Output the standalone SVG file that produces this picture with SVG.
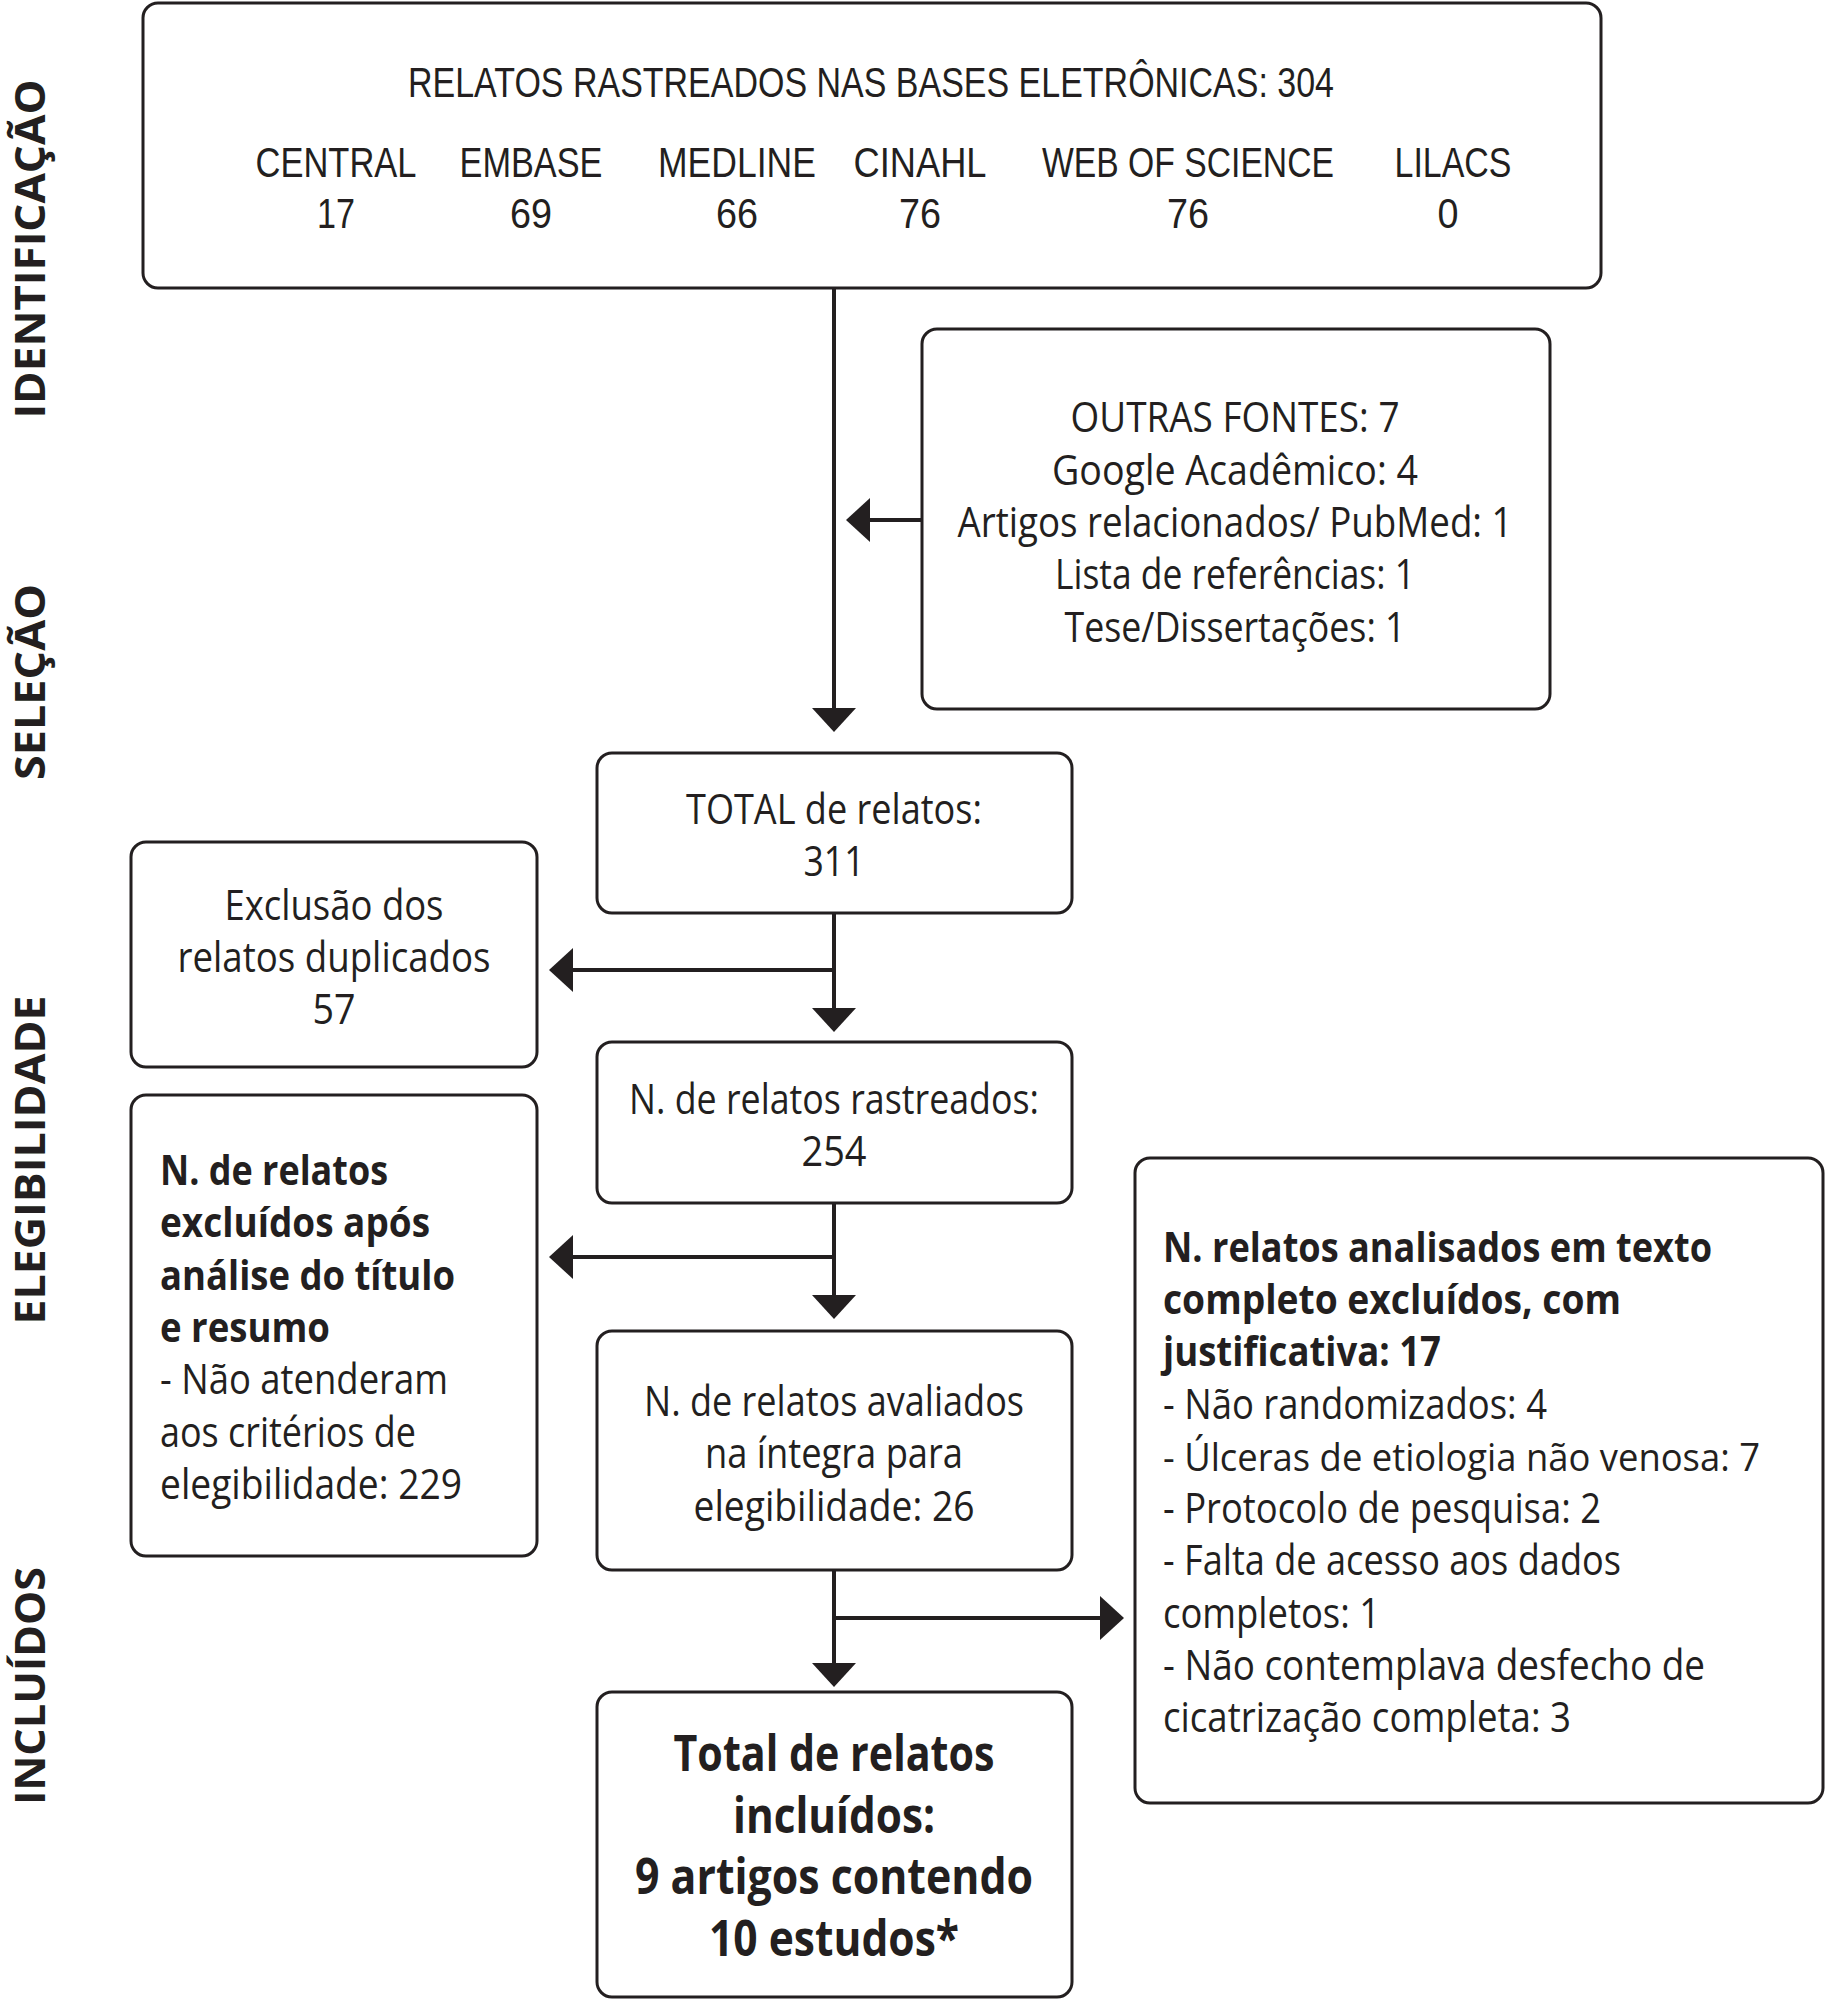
<svg xmlns="http://www.w3.org/2000/svg" width="1827" height="2000" viewBox="0 0 1827 2000">
<style>
.box{fill:#fff;stroke:#231f20;stroke-width:3}
.t{font-family:"Open Sans","Liberation Sans",sans-serif;font-size:42px;fill:#231f20}
.n{font-family:"Liberation Sans",Arial,sans-serif;font-size:43px}
.s{font-size:38px}
.c{text-anchor:middle}
.b{font-weight:bold}
.big{font-size:50px}
.side{font-family:"Open Sans","Liberation Sans",sans-serif;font-size:42px;font-weight:bold;fill:#231f20;text-anchor:middle}
.ln{stroke:#231f20;stroke-width:4;fill:none}
</style>
<defs>
<marker id="ah" markerUnits="userSpaceOnUse" markerWidth="24" markerHeight="44" viewBox="0 0 24 44" refX="0" refY="22" orient="auto">
<path d="M0,0 L24,22 L0,44 Z" fill="#231f20"/>
</marker>
</defs>
<rect width="1827" height="2000" fill="#fff"/>
<g id="side-labels">
<text class="side" transform="translate(45,249) rotate(-90)" textLength="339" lengthAdjust="spacingAndGlyphs">IDENTIFICAÇÃO</text>
<text class="side" transform="translate(45,682) rotate(-90)" textLength="196" lengthAdjust="spacingAndGlyphs">SELEÇÃO</text>
<text class="side" transform="translate(45,1160) rotate(-90)" textLength="329" lengthAdjust="spacingAndGlyphs">ELEGIBILIDADE</text>
<text class="side" transform="translate(45,1686) rotate(-90)" textLength="238" lengthAdjust="spacingAndGlyphs">INCLUÍDOS</text>
</g>
<g id="connectors">
<line class="ln" x1="834" y1="288" x2="834" y2="708" marker-end="url(#ah)"/>
<line class="ln" x1="922" y1="520" x2="870" y2="520" marker-end="url(#ah)"/>
<line class="ln" x1="834" y1="913" x2="834" y2="1008" marker-end="url(#ah)"/>
<line class="ln" x1="836" y1="970" x2="573" y2="970" marker-end="url(#ah)"/>
<line class="ln" x1="834" y1="1203" x2="834" y2="1295" marker-end="url(#ah)"/>
<line class="ln" x1="836" y1="1257" x2="573" y2="1257" marker-end="url(#ah)"/>
<line class="ln" x1="834" y1="1570" x2="834" y2="1663" marker-end="url(#ah)"/>
<line class="ln" x1="832" y1="1618" x2="1100" y2="1618" marker-end="url(#ah)"/>
</g>
<g id="node-bases">
<rect class="box" x="143" y="3" width="1458" height="285" rx="15"/>
<text class="t n c" x="871" y="97" textLength="926" lengthAdjust="spacingAndGlyphs">RELATOS RASTREADOS NAS BASES ELETRÔNICAS: 304</text>
<text class="t n c" x="336" y="177" textLength="161" lengthAdjust="spacingAndGlyphs">CENTRAL</text>
<text class="t n c" x="531" y="177" textLength="143" lengthAdjust="spacingAndGlyphs">EMBASE</text>
<text class="t n c" x="737" y="177" textLength="158" lengthAdjust="spacingAndGlyphs">MEDLINE</text>
<text class="t n c" x="920" y="177" textLength="133" lengthAdjust="spacingAndGlyphs">CINAHL</text>
<text class="t n c" x="1188" y="177" textLength="292" lengthAdjust="spacingAndGlyphs">WEB OF SCIENCE</text>
<text class="t n c" x="1453" y="177" textLength="117" lengthAdjust="spacingAndGlyphs">LILACS</text>
<text class="t n c" x="336" y="228" textLength="38" lengthAdjust="spacingAndGlyphs">17</text>
<text class="t n c" x="531" y="228" textLength="42" lengthAdjust="spacingAndGlyphs">69</text>
<text class="t n c" x="737" y="228" textLength="42" lengthAdjust="spacingAndGlyphs">66</text>
<text class="t n c" x="920" y="228" textLength="42" lengthAdjust="spacingAndGlyphs">76</text>
<text class="t n c" x="1188" y="228" textLength="42" lengthAdjust="spacingAndGlyphs">76</text>
<text class="t n c" x="1448" y="228" textLength="21" lengthAdjust="spacingAndGlyphs">0</text>
</g>
<g id="node-outras">
<rect class="box" x="922" y="329" width="628" height="380" rx="15"/>
<text class="t c" x="1235" y="432" textLength="329" lengthAdjust="spacingAndGlyphs">OUTRAS FONTES: 7</text>
<text class="t c" x="1235" y="485" textLength="366" lengthAdjust="spacingAndGlyphs">Google Acadêmico: 4</text>
<text class="t c" x="1235" y="537" textLength="555" lengthAdjust="spacingAndGlyphs">Artigos relacionados/ PubMed: 1</text>
<text class="t c" x="1235" y="589" textLength="360" lengthAdjust="spacingAndGlyphs">Lista de referências: 1</text>
<text class="t c" x="1235" y="642" textLength="341" lengthAdjust="spacingAndGlyphs">Tese/Dissertações: 1</text>
</g>
<g id="node-total">
<rect class="box" x="597" y="753" width="475" height="160" rx="15"/>
<text class="t c" x="834" y="824" textLength="296" lengthAdjust="spacingAndGlyphs">TOTAL de relatos:</text>
<text class="t c" x="834" y="876" textLength="61" lengthAdjust="spacingAndGlyphs">311</text>
</g>
<g id="node-duplicados">
<rect class="box" x="131" y="842" width="406" height="225" rx="15"/>
<text class="t c" x="334" y="920" textLength="219" lengthAdjust="spacingAndGlyphs">Exclusão dos</text>
<text class="t c" x="334" y="972" textLength="313" lengthAdjust="spacingAndGlyphs">relatos duplicados</text>
<text class="t c" x="334" y="1024" textLength="43" lengthAdjust="spacingAndGlyphs">57</text>
</g>
<g id="node-rastreados">
<rect class="box" x="597" y="1042" width="475" height="161" rx="15"/>
<text class="t c" x="834" y="1114" textLength="410" lengthAdjust="spacingAndGlyphs">N. de relatos rastreados:</text>
<text class="t c" x="834" y="1166" textLength="65" lengthAdjust="spacingAndGlyphs">254</text>
</g>
<g id="node-excluidos-titulo">
<rect class="box" x="131" y="1095" width="406" height="461" rx="15"/>
<text class="t b" x="160" y="1185" textLength="228" lengthAdjust="spacingAndGlyphs">N. de relatos</text>
<text class="t b" x="160" y="1237" textLength="270" lengthAdjust="spacingAndGlyphs">excluídos após</text>
<text class="t b" x="160" y="1290" textLength="295" lengthAdjust="spacingAndGlyphs">análise do título</text>
<text class="t b" x="160" y="1342" textLength="170" lengthAdjust="spacingAndGlyphs">e resumo</text>
<text class="t" x="160" y="1394" textLength="288" lengthAdjust="spacingAndGlyphs">- Não atenderam</text>
<text class="t" x="160" y="1447" textLength="256" lengthAdjust="spacingAndGlyphs">aos critérios de</text>
<text class="t" x="160" y="1499" textLength="302" lengthAdjust="spacingAndGlyphs">elegibilidade: 229</text>
</g>
<g id="node-avaliados">
<rect class="box" x="597" y="1331" width="475" height="239" rx="15"/>
<text class="t c" x="834" y="1416" textLength="380" lengthAdjust="spacingAndGlyphs">N. de relatos avaliados</text>
<text class="t c" x="834" y="1468" textLength="258" lengthAdjust="spacingAndGlyphs">na íntegra para</text>
<text class="t c" x="834" y="1521" textLength="281" lengthAdjust="spacingAndGlyphs">elegibilidade: 26</text>
</g>
<g id="node-excluidos-texto">
<rect class="box" x="1135" y="1158" width="688" height="645" rx="15"/>
<text class="t b" x="1163" y="1262" textLength="549" lengthAdjust="spacingAndGlyphs">N. relatos analisados em texto</text>
<text class="t b" x="1163" y="1314" textLength="458" lengthAdjust="spacingAndGlyphs">completo excluídos, com</text>
<text class="t b" x="1163" y="1366" textLength="278" lengthAdjust="spacingAndGlyphs">justificativa: 17</text>
<text class="t" x="1163" y="1419" textLength="384" lengthAdjust="spacingAndGlyphs">- Não randomizados: 4</text>
<text class="t s" x="1163" y="1471" textLength="597" lengthAdjust="spacingAndGlyphs">- Úlceras de etiologia não venosa: 7</text>
<text class="t" x="1163" y="1523" textLength="438" lengthAdjust="spacingAndGlyphs">- Protocolo de pesquisa: 2</text>
<text class="t" x="1163" y="1575" textLength="458" lengthAdjust="spacingAndGlyphs">- Falta de acesso aos dados</text>
<text class="t" x="1163" y="1628" textLength="217" lengthAdjust="spacingAndGlyphs">completos: 1</text>
<text class="t" x="1163" y="1680" textLength="542" lengthAdjust="spacingAndGlyphs">- Não contemplava desfecho de</text>
<text class="t" x="1163" y="1732" textLength="408" lengthAdjust="spacingAndGlyphs">cicatrização completa: 3</text>
</g>
<g id="node-incluidos">
<rect class="box" x="597" y="1692" width="475" height="305" rx="15"/>
<text class="t c b big" x="834" y="1771" textLength="321" lengthAdjust="spacingAndGlyphs">Total de relatos</text>
<text class="t c b big" x="834" y="1833" textLength="202" lengthAdjust="spacingAndGlyphs">incluídos:</text>
<text class="t c b big" x="834" y="1894" textLength="398" lengthAdjust="spacingAndGlyphs">9 artigos contendo</text>
<text class="t c b big" x="834" y="1956" textLength="250" lengthAdjust="spacingAndGlyphs">10 estudos*</text>
</g>
</svg>
